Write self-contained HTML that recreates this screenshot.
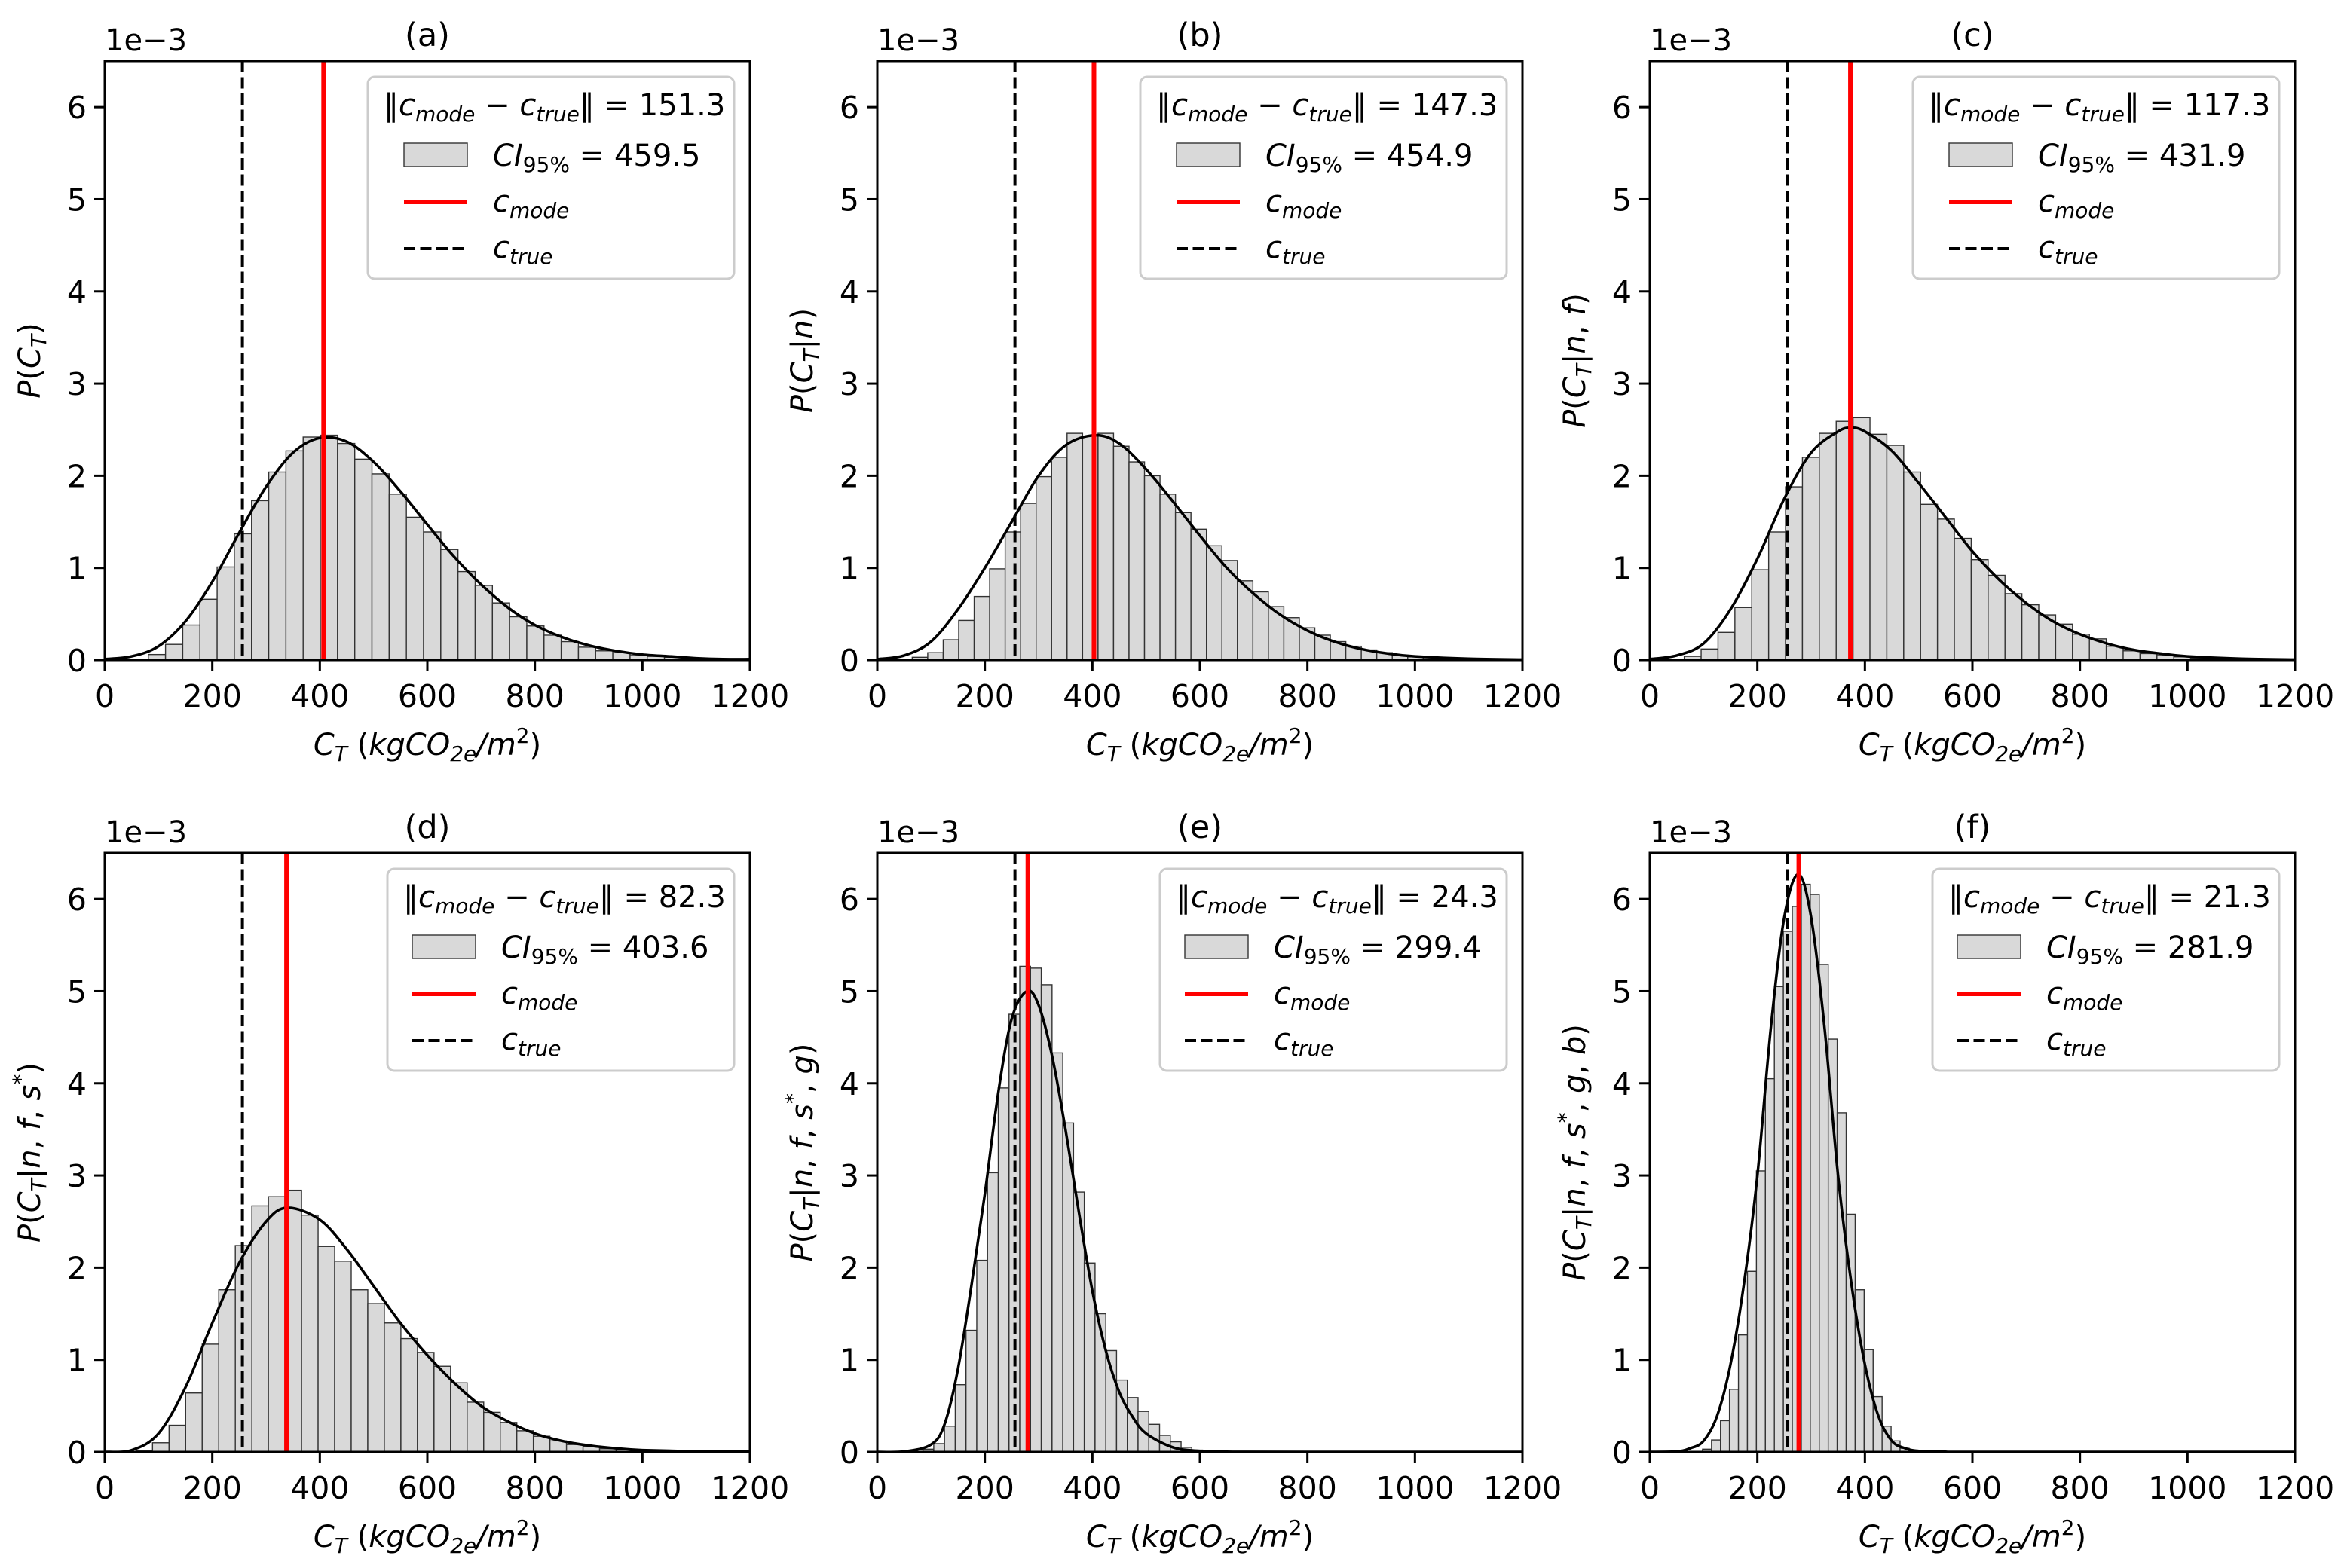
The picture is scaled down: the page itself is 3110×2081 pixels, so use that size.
<!DOCTYPE html>
<html><head><meta charset="utf-8">
<style>
html,body{margin:0;padding:0;background:#fff;}
svg{display:block;font-family:"DejaVu Sans","Liberation Sans",sans-serif;}
</style></head>
<body>
<svg id="fig" width="3110" height="2081" viewBox="0 0 3110 2081" xmlns="http://www.w3.org/2000/svg"></svg>
<script>
// ---------- data ----------
const xTicks = [0,200,400,600,800,1000,1200];
const yTicks = [0,1,2,3,4,5,6];
const panelLabels = ["(a)","(b)","(c)","(d)","(e)","(f)"];
const modeDist = ["151.3","147.3","117.3","82.3","24.3","21.3"];
const ciValues = ["459.5","454.9","431.9","403.6","299.4","281.9"];
const cTrue = [256,256,256,256,256,256];
const cMode = [407,403,373,338,280,277];
const binStart = [81,65,64,58,85,98];
const binWidth = [32,28.8,31.4,30.8,20,16.7];

const barsA = [0.06,0.17,0.38,0.66,1.01,1.37,1.73,2.04,2.27,2.42,2.44,2.35,2.18,2.02,1.80,1.55,1.39,1.20,0.96,0.81,0.62,0.47,0.37,0.27,0.20,0.14,0.10,0.08,0.05,0.04,0.03,0.02,0.015,0.01,0.01];
const barsB = [0.03,0.08,0.22,0.43,0.69,0.99,1.39,1.70,1.99,2.20,2.46,2.43,2.46,2.32,2.15,2.00,1.80,1.60,1.42,1.24,1.08,0.86,0.74,0.58,0.46,0.35,0.27,0.20,0.15,0.11,0.08,0.05,0.035,0.025,0.016,0.01,0.01,0.01,0.01];
const barsC = [0.04,0.12,0.30,0.57,0.98,1.39,1.88,2.20,2.46,2.59,2.63,2.45,2.33,2.04,1.69,1.53,1.32,1.09,0.92,0.72,0.60,0.49,0.39,0.28,0.23,0.15,0.10,0.07,0.05,0.035,0.02,0.015,0.01,0.01,0.01,0.01];
const barsD = [0.015,0.10,0.29,0.64,1.17,1.76,2.24,2.67,2.77,2.84,2.57,2.23,2.07,1.76,1.61,1.40,1.23,1.08,0.93,0.75,0.54,0.43,0.32,0.23,0.17,0.12,0.08,0.06,0.035,0.025,0.015,0.01,0.01,0.01,0.01,0.01,0.01,0.01];
const barsE = [0.03,0.09,0.28,0.73,1.32,2.08,3.03,3.95,4.75,5.27,5.25,5.07,4.33,3.57,2.82,2.05,1.50,1.10,0.78,0.59,0.44,0.30,0.18,0.11,0.05,0.02];
const barsF = [0.03,0.13,0.34,0.68,1.27,1.96,3.05,4.05,5.05,5.65,5.92,6.16,6.05,5.29,4.48,3.68,2.58,1.76,1.11,0.60,0.28,0.12,0.04,0.02];

const curveXA = [0,50,100,150,200,250,300,350,400,450,500,550,600,650,700,750,800,850,900,950,1000,1050,1100,1150,1200];
const curveYA = [0.01,0.04,0.15,0.42,0.85,1.38,1.88,2.25,2.41,2.37,2.15,1.83,1.47,1.12,0.82,0.57,0.38,0.25,0.16,0.10,0.06,0.04,0.02,0.01,0.01];
const curveXB = [0,50,100,150,200,250,300,350,405,450,500,550,600,650,700,750,800,850,900,950,1000,1100,1200];
const curveYB = [0.01,0.05,0.2,0.55,1.0,1.5,2.0,2.33,2.44,2.35,2.07,1.72,1.35,1.0,0.72,0.49,0.32,0.2,0.12,0.07,0.04,0.015,0.005];
const curveXC = [0,50,100,150,200,250,300,350,375,400,450,500,550,600,650,700,750,800,850,900,950,1000,1100,1200];
const curveYC = [0.01,0.05,0.18,0.55,1.1,1.75,2.25,2.48,2.52,2.48,2.27,1.92,1.55,1.18,0.87,0.62,0.42,0.28,0.18,0.11,0.07,0.04,0.015,0.005];
const curveXD = [0,50,100,150,200,250,300,340,400,450,500,550,600,650,700,750,800,850,900,950,1000,1100,1200];
const curveYD = [0,0.02,0.2,0.7,1.4,2.05,2.5,2.65,2.52,2.2,1.8,1.4,1.05,0.75,0.5,0.33,0.2,0.12,0.07,0.04,0.02,0.007,0.002];
const curveXE = [0,50,100,125,150,175,200,225,250,278,300,325,350,375,400,425,450,475,500,550,600,650,800,1200];
const curveYE = [0,0.005,0.08,0.3,0.9,1.8,2.8,3.9,4.7,5.0,4.85,4.3,3.5,2.6,1.75,1.1,0.65,0.38,0.2,0.05,0.01,0.002,0,0];
const curveXF = [0,50,75,100,125,150,175,200,225,250,276,300,325,350,375,400,425,450,475,500,550,600,1200];
const curveYF = [0,0.005,0.04,0.12,0.39,0.95,1.82,3.0,4.6,5.8,6.27,5.8,4.6,3.0,1.82,0.95,0.39,0.12,0.04,0.01,0.002,0,0];

const yLabels = [
 '<tspan font-style="italic">P</tspan>(<tspan font-style="italic">C</tspan><tspan font-style="italic" font-size="28" dy="8">T</tspan><tspan dy="-8">)</tspan>',
 '<tspan font-style="italic">P</tspan>(<tspan font-style="italic">C</tspan><tspan font-style="italic" font-size="28" dy="8">T</tspan><tspan dy="-8">|</tspan><tspan font-style="italic">n</tspan>)',
 '<tspan font-style="italic">P</tspan>(<tspan font-style="italic">C</tspan><tspan font-style="italic" font-size="28" dy="8">T</tspan><tspan dy="-8">|</tspan><tspan font-style="italic">n</tspan>, <tspan font-style="italic">f</tspan>)',
 '<tspan font-style="italic">P</tspan>(<tspan font-style="italic">C</tspan><tspan font-style="italic" font-size="28" dy="8">T</tspan><tspan dy="-8">|</tspan><tspan font-style="italic">n</tspan>, <tspan font-style="italic">f</tspan>, <tspan font-style="italic">s</tspan><tspan font-size="28" dy="-16">*</tspan><tspan dy="16">)</tspan>',
 '<tspan font-style="italic">P</tspan>(<tspan font-style="italic">C</tspan><tspan font-style="italic" font-size="28" dy="8">T</tspan><tspan dy="-8">|</tspan><tspan font-style="italic">n</tspan>, <tspan font-style="italic">f</tspan>, <tspan font-style="italic">s</tspan><tspan font-size="28" dy="-16">*</tspan><tspan dy="16">, </tspan><tspan font-style="italic">g</tspan>)',
 '<tspan font-style="italic">P</tspan>(<tspan font-style="italic">C</tspan><tspan font-style="italic" font-size="28" dy="8">T</tspan><tspan dy="-8">|</tspan><tspan font-style="italic">n</tspan>, <tspan font-style="italic">f</tspan>, <tspan font-style="italic">s</tspan><tspan font-size="28" dy="-16">*</tspan><tspan dy="16">, </tspan><tspan font-style="italic">g</tspan>, <tspan font-style="italic">b</tspan>)'
];

const allBars = [barsA,barsB,barsC,barsD,barsE,barsF];
const allCX = [curveXA,curveXB,curveXC,curveXD,curveXE,curveXF];
const allCY = [curveYA,curveYB,curveYC,curveYD,curveYE,curveYF];

// ---------- layout ----------
const axLefts = [139,1164,2189];
const axTops = [81,1132];
const AW = 856, AH = 795;
const XMAX = 1200, YMAX = 6.5;
const NS = "http://www.w3.org/2000/svg";
const svg = document.getElementById('fig');

function mk(parent, tag, attrs){
  const e = document.createElementNS(NS, tag);
  for (const k in attrs) e.setAttribute(k, attrs[k]);
  parent.appendChild(e);
  return e;
}
function smoothPath(pts){
  let d = 'M' + pts[0][0].toFixed(1) + ',' + pts[0][1].toFixed(1);
  for (let i=0;i<pts.length-1;i++){
    const p0 = pts[Math.max(0,i-1)], p1 = pts[i], p2 = pts[i+1], p3 = pts[Math.min(pts.length-1,i+2)];
    const c1x = p1[0] + (p2[0]-p0[0])/6, c1y = p1[1] + (p2[1]-p0[1])/6;
    const c2x = p2[0] - (p3[0]-p1[0])/6, c2y = p2[1] - (p3[1]-p1[1])/6;
    d += ' C' + c1x.toFixed(1)+','+c1y.toFixed(1)+' '+c2x.toFixed(1)+','+c2y.toFixed(1)+' '+p2[0].toFixed(1)+','+p2[1].toFixed(1);
  }
  return d;
}

for (let p=0;p<6;p++){
  const L = axLefts[p%3], T = axTops[Math.floor(p/3)];
  const sx = v => L + v/XMAX*AW;
  const sy = v => T + AH - v/YMAX*AH;
  const narrow = p>=3;
  const g = mk(svg,'g',{});
  
  

  const cp = mk(g,'clipPath',{id:'clip'+p});
  mk(cp,'rect',{x:L,y:T,width:AW,height:AH});
  const plot = mk(g,'g',{'clip-path':'url(#clip'+p+')'});
  
  

  const bars = allBars[p];
  for (let i=0;i<bars.length;i++){
    const x0 = binStart[p] + i*binWidth[p];
    const r = mk(plot,'rect',{x:sx(x0),y:sy(bars[i]),width:sx(x0+binWidth[p])-sx(x0),height:sy(0)-sy(bars[i]),fill:'#d9d9d9',stroke:'#333','stroke-width':1.4});
    
    
  }
  const pts = allCX[p].map((x,i)=>[sx(x), sy(allCY[p][i])]);
  const cv = mk(plot,'path',{d:smoothPath(pts),fill:'none',stroke:'#000','stroke-width':3.5});
  
  
  const tl = mk(plot,'line',{x1:sx(cTrue[p]),x2:sx(cTrue[p]),y1:T,y2:T+AH,stroke:'#000','stroke-width':4,'stroke-dasharray':'15,6.5'});
  
  
  const ml = mk(plot,'line',{x1:sx(cMode[p]),x2:sx(cMode[p]),y1:T,y2:T+AH,stroke:'#ff0000','stroke-width':6});
  
  

  const fr = mk(g,'rect',{x:L,y:T,width:AW,height:AH,fill:'none',stroke:'#000','stroke-width':3});
  
  

  for (const v of xTicks){
    const x = sx(v);
    const tk = mk(g,'line',{x1:x,x2:x,y1:T+AH,y2:T+AH+14,stroke:'#000','stroke-width':3});
    
    
    const t = mk(g,'text',{x:x,y:T+AH+62,'font-size':41,'text-anchor':'middle'});
    
    
    t.textContent = v;
  }
  for (const v of yTicks){
    const y = sy(v);
    const tk = mk(g,'line',{x1:L-14,x2:L,y1:y,y2:y,stroke:'#000','stroke-width':3});
    
    
    const t = mk(g,'text',{x:L-24,y:y+15,'font-size':41,'text-anchor':'end'});
    
    
    t.textContent = v;
  }
  const off = mk(g,'text',{x:L,y:T-14,'font-size':40});
  
  
  off.textContent = '1e\u22123';
  const ti = mk(g,'text',{x:L+AW/2,y:T-20,'font-size':43,'text-anchor':'middle'});
  
  
  ti.textContent = panelLabels[p];
  const xl = mk(g,'text',{x:L+AW/2,y:T+AH+126,'font-size':40,'text-anchor':'middle'});
  
  
  xl.innerHTML = '<tspan font-style="italic">C</tspan><tspan font-style="italic" font-size="28" dy="8">T</tspan><tspan dy="-8"> (</tspan><tspan font-style="italic">kgCO</tspan><tspan font-style="italic" font-size="28" dy="8">2e</tspan><tspan font-style="italic" dy="-8">/m</tspan><tspan font-size="28" dy="-16">2</tspan><tspan dy="16">)</tspan>';
  const yx = L-86, yy = T+AH/2;
  const yl = mk(g,'text',{x:yx,y:yy,'font-size':40,'text-anchor':'middle',transform:'rotate(-90 '+yx+' '+yy+')'});
  
  
  yl.innerHTML = yLabels[p];

  const lw = narrow ? 460 : 486;
  const lx = L + AW - 21 - lw, ly = T + 21;
  const lg = mk(g,'g',{});
  
  
  mk(lg,'rect',{x:lx,y:ly,width:lw,height:268,rx:9,fill:'#fff','fill-opacity':0.85,stroke:'#cccccc','stroke-width':3});
  const l1 = mk(lg,'text',{x:lx+21,y:T+72,'font-size':40});
  
  
  l1.innerHTML = '\u2016<tspan font-style="italic">c</tspan><tspan font-style="italic" font-size="28" dy="8">mode</tspan><tspan dy="-8"> \u2212 </tspan><tspan font-style="italic">c</tspan><tspan font-style="italic" font-size="28" dy="8">true</tspan><tspan dy="-8">\u2016 = ' + modeDist[p] + '</tspan>';
  const hx = lx + (narrow ? 33 : 48);
  const pa = mk(lg,'rect',{x:hx,y:T+109,width:84,height:31,fill:'#d9d9d9',stroke:'#333','stroke-width':1.4});
  
  
  const l2 = mk(lg,'text',{x:hx+118,y:T+139,'font-size':40});
  
  
  l2.innerHTML = '<tspan font-style="italic">CI</tspan><tspan font-size="28" dy="8">95%</tspan><tspan dy="-8"> = ' + ciValues[p] + '</tspan>';
  const mh = mk(lg,'line',{x1:hx,x2:hx+84,y1:T+187,y2:T+187,stroke:'#ff0000','stroke-width':6});
  
  
  const l3 = mk(lg,'text',{x:hx+118,y:T+200,'font-size':40});
  
  
  l3.innerHTML = '<tspan font-style="italic">c</tspan><tspan font-style="italic" font-size="28" dy="8">mode</tspan>';
  const th = mk(lg,'line',{x1:hx,x2:hx+84,y1:T+249,y2:T+249,stroke:'#000','stroke-width':4,'stroke-dasharray':'15,6.5'});
  
  
  const l4 = mk(lg,'text',{x:hx+118,y:T+261,'font-size':40});
  
  
  l4.innerHTML = '<tspan font-style="italic">c</tspan><tspan font-style="italic" font-size="28" dy="8">true</tspan>';
}
</script>
</body></html>
